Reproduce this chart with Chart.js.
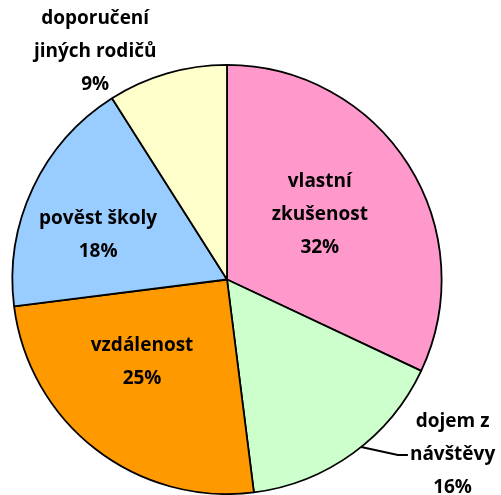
<!DOCTYPE html>
<html>
<head>
<meta charset="utf-8">
<script src="https://cdn.jsdelivr.net/npm/chart.js@4/dist/chart.umd.min.js"></script>
<style>
html,body{margin:0;padding:0;background:#fff;}
#c{display:block;}
</style>
</head>
<body>
<canvas id="c" width="501" height="495"></canvas>
<script>
const categories = ["vlastní zkušenost", "dojem z návštěvy", "vzdálenost", "pověst školy", "doporučení jiných rodičů"];
const labelLines = [["vlastní", "zkušenost"], ["dojem z", "návštěvy"], ["vzdálenost"], ["pověst školy"], ["doporučení", "jiných rodičů"]];
const values = [32, 16, 25, 18, 9];
const colors = ["#FF99CC", "#CCFFCC", "#FF9900", "#99CCFF", "#FFFFCC"];

// label placement: [angle from 12 o'clock clockwise in degrees, radius factor]
const labelPlace = [[55.0, 0.528], [127.9, 1.332], [225.7, 0.553], [289.2, 0.636], [329.9, 1.225]];
const lineGap = 33;

const labelPlugin = {
  id: 'pieLabels',
  afterDatasetsDraw(chart) {
    const ctx = chart.ctx;
    const meta = chart.getDatasetMeta(0);
    const arc0 = meta.data[0];
    const cx = arc0.x, cy = arc0.y, R = arc0.outerRadius;
    const total = values.reduce((a, b) => a + b, 0);
    ctx.save();
    ctx.fillStyle = '#000';
    ctx.font = 'bold 19px "Open Sans"';
    ctx.textAlign = 'center';
    ctx.textBaseline = 'middle';
    meta.data.forEach((arc, i) => {
      const [deg, rf] = labelPlace[i];
      const a = deg * Math.PI / 180;
      const x = cx + Math.sin(a) * R * rf;
      const y = cy - Math.cos(a) * R * rf;
      const pct = Math.round(values[i] / total * 100) + '%';
      const lines = labelLines[i].concat([pct]);
      const y0 = y - (lines.length - 1) * lineGap / 2;
      lines.forEach((t, k) => ctx.fillText(t, x, y0 + k * lineGap));
      if (i === 1) {
        // leader line from slice edge to label
        const sa = 141.3 * Math.PI / 180;
        const sx = cx + Math.sin(sa) * R, sy = cy - Math.cos(sa) * R;
        const ly = y0 + lineGap;
        const tw = ctx.measureText(lines[1]).width;
        const ex = x - tw / 2 - 2;
        ctx.beginPath();
        ctx.strokeStyle = '#000';
        ctx.lineWidth = 2;
        ctx.moveTo(sx, sy);
        ctx.lineTo(ex - 10, ly);
        ctx.lineTo(ex, ly);
        ctx.stroke();
      }
    });
    ctx.restore();
  }
};

new Chart(document.getElementById('c'), {
  type: 'pie',
  data: {
    labels: categories,
    datasets: [{
      data: values,
      backgroundColor: colors,
      borderColor: '#000',
      borderWidth: 1.8,
      borderAlign: 'center'
    }]
  },
  options: {
    responsive: false,
    animation: false,
    layout: { padding: { left: 11, right: 58, top: 64, bottom: 0 } },
    plugins: {
      legend: { display: false },
      tooltip: { enabled: false }
    }
  },
  plugins: [labelPlugin]
});
</script>
</body>
</html>
